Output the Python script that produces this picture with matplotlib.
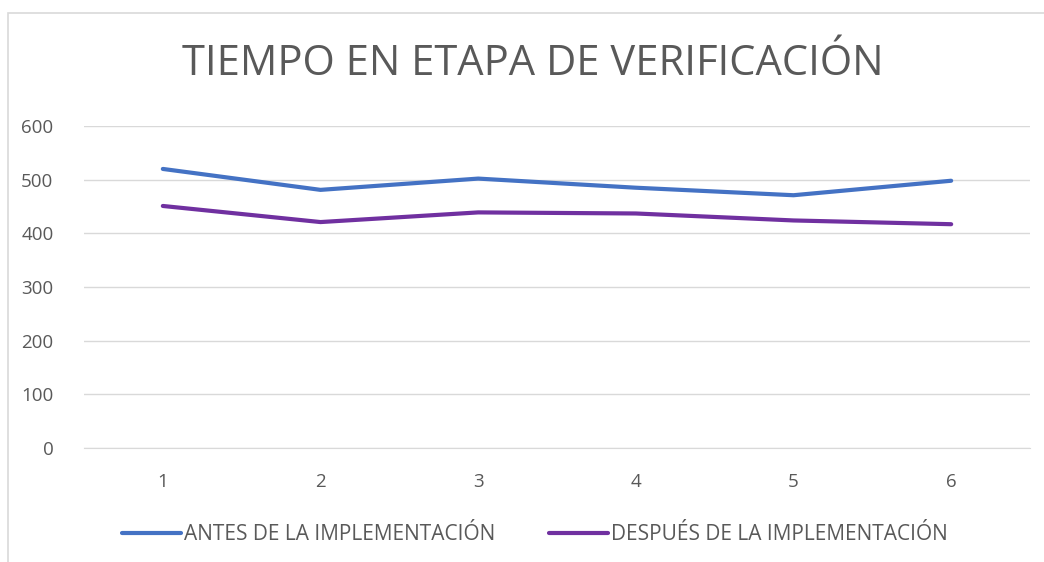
import matplotlib.pyplot as plt
from matplotlib.patches import Rectangle

# data
categories = [1, 2, 3, 4, 5, 6]
antes = [520, 481, 502, 485, 471, 498]
despues = [451, 421, 439, 437, 424, 417]
labels = ["ANTES DE LA IMPLEMENTACIÓN", "DESPUÉS DE LA IMPLEMENTACIÓN"]
yticks = [0, 100, 200, 300, 400, 500, 600]

plt.rcParams['font.family'] = ['Open Sans', 'DejaVu Sans']
text_color = "#595959"

fig = plt.figure(figsize=(10.44, 5.62), dpi=100)
ax = fig.add_axes([84 / 1044, 1 - 448 / 562, 946 / 1044, 322 / 562])

# chart border
fig.patches.append(Rectangle((8 / 1044, -0.05), 1.1, 1 - 13 / 562 + 0.05,
                             transform=fig.transFigure, fill=False,
                             edgecolor="#d9d9d9", linewidth=1.2))

ax.plot(categories, antes, color="#4472C4", linewidth=3, solid_capstyle="round",
        label=labels[0])
ax.plot(categories, despues, color="#7030A0", linewidth=3, solid_capstyle="round",
        label=labels[1])

ax.set_xlim(0.5, 6.5)
ax.set_ylim(0, 600)
ax.set_yticks(yticks)
ax.set_xticks(categories)
ax.grid(axis="y", color="#d9d9d9", linewidth=1)
ax.set_axisbelow(True)
for side in ["top", "right", "left"]:
    ax.spines[side].set_visible(False)
ax.spines["bottom"].set_color("#d9d9d9")
ax.tick_params(length=0, labelsize=13.5, colors=text_color)
ax.tick_params(axis="x", pad=18)
ax.tick_params(axis="y", pad=22)

fig.text(533 / 1044, 1 - 64 / 562, "TIEMPO EN ETAPA DE VERIFICACIÓN",
         ha="center", va="center", fontsize=30, color=text_color)

fig.legend(loc="center", bbox_to_anchor=(535 / 1044, 1 - 535 / 562), ncol=2,
           frameon=False, fontsize=15, labelcolor=text_color, handlelength=2.8,
           handletextpad=0.15, columnspacing=2.6)

fig.savefig("out.png", dpi=100)
